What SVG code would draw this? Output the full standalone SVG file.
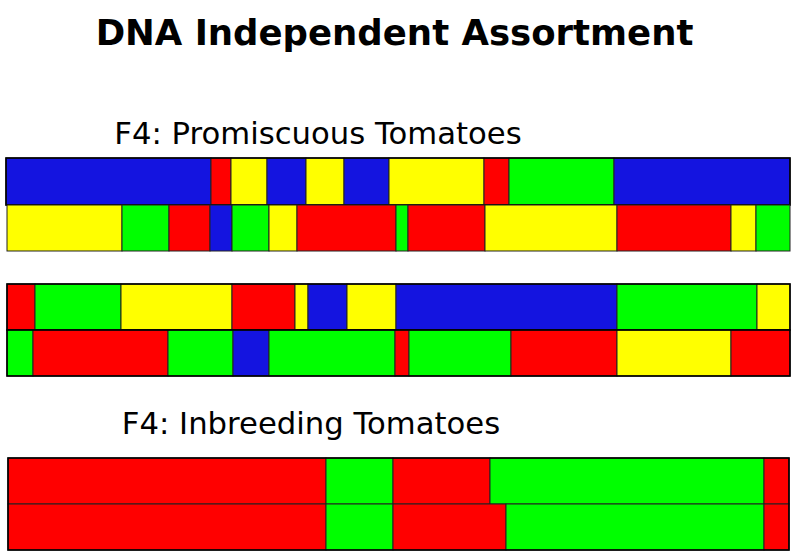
<svg xmlns="http://www.w3.org/2000/svg" width="800" height="558" viewBox="0 0 800 558">
<style>
.t{font-family:"DejaVu Sans",sans-serif;fill:#000;text-anchor:middle}
.b{fill:#1414e0}.r{fill:#ff0000}.y{fill:#ffff00}.g{fill:#00ff00}
.s rect{stroke:#222;stroke-width:1}
.s rect.o{fill:none;stroke:#000;stroke-width:1.6}
</style>
<rect width="800" height="558" fill="#fff"/>
<text class="t" x="394.5" y="45" font-size="35.5" font-weight="bold">DNA Independent Assortment</text>
<text class="t" x="318" y="144" font-size="30.7">F4: Promiscuous Tomatoes</text>
<text class="t" x="311" y="434" font-size="30.7">F4: Inbreeding Tomatoes</text>
<g class="s">
<g id="promiscuous-pair1-a">
<rect class="b" x="6" y="158" width="205" height="47"/>
<rect class="r" x="211" y="158" width="20" height="47"/>
<rect class="y" x="231" y="158" width="36" height="47"/>
<rect class="b" x="267" y="158" width="39" height="47"/>
<rect class="y" x="306" y="158" width="38" height="47"/>
<rect class="b" x="344" y="158" width="45" height="47"/>
<rect class="y" x="389" y="158" width="95" height="47"/>
<rect class="r" x="484" y="158" width="25" height="47"/>
<rect class="g" x="509" y="158" width="105" height="47"/>
<rect class="b" x="614" y="158" width="176" height="47"/>
<rect class="o" x="6" y="158" width="784" height="47"/>
</g>
<g id="promiscuous-pair1-b">
<rect class="y" x="7" y="205" width="115" height="46"/>
<rect class="g" x="122" y="205" width="47" height="46"/>
<rect class="r" x="169" y="205" width="41" height="46"/>
<rect class="b" x="210" y="205" width="22" height="46"/>
<rect class="g" x="232" y="205" width="37" height="46"/>
<rect class="y" x="269" y="205" width="28" height="46"/>
<rect class="r" x="297" y="205" width="99" height="46"/>
<rect class="g" x="396" y="205" width="12" height="46"/>
<rect class="r" x="408" y="205" width="77" height="46"/>
<rect class="y" x="485" y="205" width="132" height="46"/>
<rect class="r" x="617" y="205" width="114" height="46"/>
<rect class="y" x="731" y="205" width="25" height="46"/>
<rect class="g" x="756" y="205" width="34" height="46"/>
</g>
<g id="promiscuous-pair2-a">
<rect class="r" x="7" y="284" width="28" height="46"/>
<rect class="g" x="35" y="284" width="86" height="46"/>
<rect class="y" x="121" y="284" width="111" height="46"/>
<rect class="r" x="232" y="284" width="63" height="46"/>
<rect class="y" x="295" y="284" width="13" height="46"/>
<rect class="b" x="308" y="284" width="39" height="46"/>
<rect class="y" x="347" y="284" width="49" height="46"/>
<rect class="b" x="396" y="284" width="221" height="46"/>
<rect class="g" x="617" y="284" width="140" height="46"/>
<rect class="y" x="757" y="284" width="33" height="46"/>
<rect class="o" x="7" y="284" width="783" height="46"/>
</g>
<g id="promiscuous-pair2-b">
<rect class="g" x="7" y="330" width="26" height="46"/>
<rect class="r" x="33" y="330" width="135" height="46"/>
<rect class="g" x="168" y="330" width="65" height="46"/>
<rect class="b" x="233" y="330" width="36" height="46"/>
<rect class="g" x="269" y="330" width="126" height="46"/>
<rect class="r" x="395" y="330" width="14" height="46"/>
<rect class="g" x="409" y="330" width="102" height="46"/>
<rect class="r" x="511" y="330" width="106" height="46"/>
<rect class="y" x="617" y="330" width="114" height="46"/>
<rect class="r" x="731" y="330" width="59" height="46"/>
<rect class="o" x="7" y="330" width="783" height="46"/>
</g>
<g id="inbreeding-a">
<rect class="r" x="8" y="458" width="318" height="46"/>
<rect class="g" x="326" y="458" width="67" height="46"/>
<rect class="r" x="393" y="458" width="97" height="46"/>
<rect class="g" x="490" y="458" width="274" height="46"/>
<rect class="r" x="764" y="458" width="25" height="46"/>
</g>
<g id="inbreeding-b">
<rect class="r" x="8" y="504" width="318" height="46"/>
<rect class="g" x="326" y="504" width="67" height="46"/>
<rect class="r" x="393" y="504" width="113" height="46"/>
<rect class="g" x="506" y="504" width="258" height="46"/>
<rect class="r" x="764" y="504" width="25" height="46"/>
<rect class="o" x="8" y="458" width="781" height="92"/>
</g>
</g>
</svg>
